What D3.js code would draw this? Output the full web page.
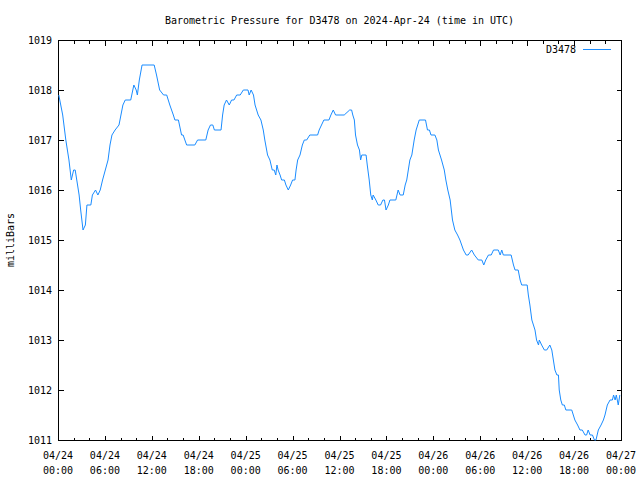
<!DOCTYPE html>
<html><head><meta charset="utf-8">
<script src="https://cdn.jsdelivr.net/npm/d3@7"></script>
<style>
body{margin:0;background:#fff}
svg{display:block}
text{font-family:"DejaVu Sans Mono","Liberation Mono",monospace;font-size:10px;fill:#000}
</style>
</head><body>
<svg id="chart" width="640" height="480"></svg>
<script>
// hours since 2024-04-24 00:00 UTC
const hours = [0.1,0.6,1.0,1.4,1.7,2.0,2.2,2.5,2.7,2.9,3.2,3.5,3.7,4.2,4.4,4.8,5.1,5.4,5.7,6.05,6.4,6.65,6.9,7.3,7.8,8.05,8.3,8.6,9.3,9.7,10.0,10.15,10.4,10.75,12.3,12.6,13.0,13.5,13.9,14.3,14.75,14.95,15.4,15.8,16.0,16.45,17.5,17.85,18.9,19.2,19.5,19.8,20.0,20.85,21.05,21.25,21.55,21.9,22.2,22.5,22.85,23.3,23.7,24.3,24.45,24.7,25.0,25.2,25.6,25.95,26.25,26.45,26.8,27.1,27.4,27.65,27.85,28.0,28.15,28.4,28.6,28.95,29.15,29.45,29.75,30.0,30.3,30.45,30.65,30.95,31.25,31.5,31.8,32.2,33.2,33.4,33.7,34.0,34.65,34.9,35.2,35.5,36.6,37.3,37.55,37.7,37.9,38.05,38.3,38.55,38.7,38.85,39.4,39.55,39.8,40.0,40.2,40.3,40.65,40.95,41.25,41.55,41.75,41.95,42.25,42.45,43.2,43.5,43.75,44.15,44.4,44.6,44.8,45.0,45.25,45.55,45.8,46.0,46.2,47.0,47.25,47.5,47.7,48.2,48.45,48.65,49.05,49.4,49.6,49.85,50.15,50.45,50.75,51.1,51.4,51.85,52.2,52.45,52.9,53.25,53.75,54.2,54.45,54.7,55.05,55.4,55.7,56.3,56.55,56.75,56.95,57.95,58.25,58.45,58.85,59.1,59.3,60.0,60.15,60.35,60.6,60.8,61.0,61.2,61.45,61.55,61.85,62.2,62.5,62.9,63.15,63.35,63.55,63.8,64.0,64.1,64.3,64.5,64.75,64.95,65.7,65.9,66.1,66.45,66.75,67.05,67.4,67.6,67.8,68.05,68.35,68.6,68.8,69.1,69.45,69.75,69.95,70.25,70.6,70.9,71.05,71.25,71.4,71.65,71.85];
const pressure = [1017.9,1017.5,1017.0,1016.6,1016.2,1016.4,1016.4,1016.1,1015.9,1015.6,1015.2,1015.3,1015.7,1015.7,1015.9,1016.0,1015.9,1016.0,1016.2,1016.4,1016.6,1016.9,1017.1,1017.2,1017.3,1017.5,1017.7,1017.8,1017.8,1018.1,1018.0,1017.9,1018.2,1018.5,1018.5,1018.3,1018.0,1017.9,1017.9,1017.7,1017.5,1017.4,1017.4,1017.1,1017.1,1016.9,1016.9,1017.0,1017.0,1017.2,1017.3,1017.3,1017.2,1017.2,1017.5,1017.7,1017.8,1017.7,1017.8,1017.8,1017.9,1017.9,1018.0,1018.0,1017.9,1018.0,1017.9,1017.7,1017.5,1017.4,1017.2,1017.0,1016.7,1016.6,1016.4,1016.4,1016.3,1016.5,1016.4,1016.3,1016.2,1016.2,1016.1,1016.0,1016.1,1016.2,1016.2,1016.4,1016.6,1016.7,1016.9,1017.0,1017.0,1017.1,1017.1,1017.2,1017.3,1017.4,1017.4,1017.5,1017.6,1017.5,1017.5,1017.6,1017.6,1017.5,1017.4,1017.1,1016.9,1016.8,1016.6,1016.7,1016.7,1016.5,1016.2,1015.9,1015.8,1015.9,1015.8,1015.7,1015.7,1015.8,1015.8,1015.6,1015.7,1015.8,1015.8,1016.0,1015.9,1015.9,1016.1,1016.2,1016.4,1016.6,1016.7,1017.0,1017.2,1017.3,1017.4,1017.4,1017.2,1017.2,1017.1,1017.1,1017.0,1016.8,1016.6,1016.4,1016.2,1016.0,1015.8,1015.4,1015.2,1015.1,1015.0,1014.8,1014.7,1014.7,1014.8,1014.7,1014.6,1014.6,1014.5,1014.6,1014.7,1014.7,1014.8,1014.8,1014.7,1014.8,1014.7,1014.7,1014.5,1014.4,1014.4,1014.2,1014.1,1014.1,1013.9,1013.7,1013.4,1013.3,1013.2,1013.0,1012.9,1013.0,1012.9,1012.8,1012.8,1012.9,1012.8,1012.6,1012.4,1012.3,1012.3,1012.0,1011.8,1011.7,1011.7,1011.6,1011.6,1011.5,1011.4,1011.3,1011.2,1011.2,1011.1,1011.1,1011.2,1011.1,1011.1,1011.0,1011.0,1011.2,1011.3,1011.4,1011.5,1011.7,1011.8,1011.8,1011.9,1011.8,1011.9,1011.7,1011.9];
const xTickHours = [0,6,12,18,24,30,36,42,48,54,60,66,72];
const xTickDates = ["04/24","04/24","04/24","04/24","04/25","04/25","04/25","04/25","04/26","04/26","04/26","04/26","04/27"];
const xTickTimes = ["00:00","06:00","12:00","18:00","00:00","06:00","12:00","18:00","00:00","06:00","12:00","18:00","00:00"];
const xMinorHours = d3.range(0, 73, 2).filter(h => h % 6 !== 0);
const yTicks = [1011,1012,1013,1014,1015,1016,1017,1018,1019];
const seriesName = "D3478";
const titleText = "Barometric Pressure for D3478 on 2024-Apr-24 (time in UTC)";
const yLabelText = "milliBars";

const L = 58, R = 621, T = 40, B = 440;
const svg = d3.select("#chart");
const x = d3.scaleLinear().domain([0,72]).range([L,R]);
const y = d3.scaleLinear().domain([1011,1019]).range([B,T]);

function styleAxis(g){
  g.select(".domain").remove();
  g.selectAll("line").attr("stroke","#000").attr("shape-rendering","crispEdges");
  g.selectAll("text").remove();
}
// bottom major + minor
svg.append("g").attr("transform",`translate(0,${B+0.5})`)
  .call(d3.axisBottom(x).tickValues(xTickHours).tickSize(-5).tickSizeOuter(0)).call(styleAxis);
svg.append("g").attr("transform",`translate(0,${B+0.5})`)
  .call(d3.axisBottom(x).tickValues(xMinorHours).tickSize(-3).tickSizeOuter(0)).call(styleAxis);
// top major + minor
svg.append("g").attr("transform",`translate(0,${T+0.5})`)
  .call(d3.axisTop(x).tickValues(xTickHours).tickSize(-5).tickSizeOuter(0)).call(styleAxis);
svg.append("g").attr("transform",`translate(0,${T+0.5})`)
  .call(d3.axisTop(x).tickValues(xMinorHours).tickSize(-3).tickSizeOuter(0)).call(styleAxis);
// left/right
svg.append("g").attr("transform",`translate(${L+0.5},0)`)
  .call(d3.axisLeft(y).tickValues(yTicks).tickSize(-5).tickSizeOuter(0)).call(styleAxis);
svg.append("g").attr("transform",`translate(${R+0.5},0)`)
  .call(d3.axisRight(y).tickValues(yTicks).tickSize(-5).tickSizeOuter(0)).call(styleAxis);

// border
svg.append("rect").attr("x",L+0.5).attr("y",T+0.5).attr("width",R-L).attr("height",B-T)
  .attr("fill","none").attr("stroke","#000").attr("shape-rendering","crispEdges");

// y tick labels
svg.append("g").selectAll("text").data(yTicks).join("text")
  .attr("x",52).attr("y",d=>y(d)+4).attr("text-anchor","end").text(d=>d);
// x tick labels
const xl = svg.append("g").selectAll("g").data(xTickHours).join("g");
xl.append("text").attr("x",d=>x(d)).attr("y",459).attr("text-anchor","middle").text((d,i)=>xTickDates[i]);
xl.append("text").attr("x",d=>x(d)).attr("y",474).attr("text-anchor","middle").text((d,i)=>xTickTimes[i]);

// title
svg.append("text").attr("x",(L+R)/2).attr("y",24).attr("text-anchor","middle").text(titleText);
// y label
svg.append("text").attr("transform","translate(14,240) rotate(-90)").attr("text-anchor","middle").text(yLabelText);

// line
const data = hours.map((h,i)=>({h, p: pressure[i]}));
const color = "#1a8cff";
svg.append("path").datum(data)
  .attr("fill","none").attr("stroke",color).attr("stroke-width",1)
  .attr("d", d3.line().x(d=>x(d.h)).y(d=>y(d.p)));

// legend
svg.append("text").attr("x",576).attr("y",53).attr("text-anchor","end").text(seriesName);
svg.append("line").attr("x1",583).attr("x2",611).attr("y1",49.5).attr("y2",49.5)
  .attr("stroke",color).attr("stroke-width",1).attr("shape-rendering","crispEdges");
</script>
</body></html>
